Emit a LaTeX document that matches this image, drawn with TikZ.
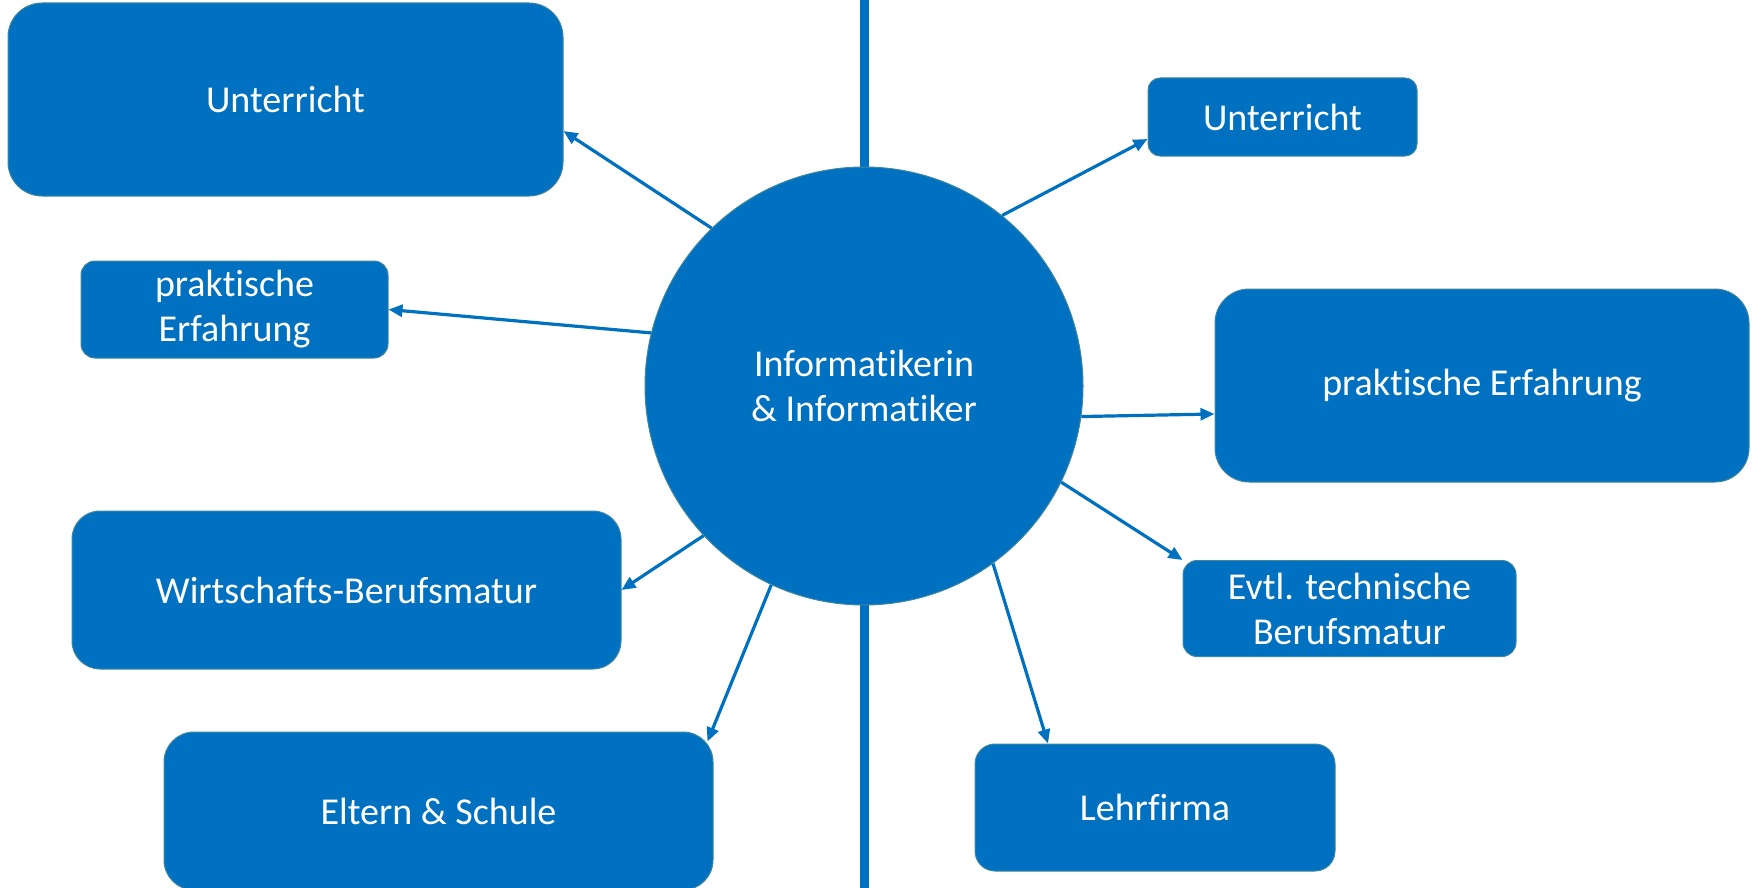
\documentclass[tikz,border=0pt]{standalone}
\usepackage{fontspec}
\setmainfont{Carlito}[Ligatures=NoCommon]
\usetikzlibrary{arrows.meta,calc}
\definecolor{fillblue}{RGB}{0,112,192}
\definecolor{edgeteal}{RGB}{65,135,160}
\begin{document}
\begin{tikzpicture}[x=1pt,y=-1pt,
  box/.style={draw=edgeteal, line width=1pt, fill=fillblue, text=white, inner sep=0pt,
    align=center, font=\fontsize{38}{45}\selectfont},
  conn/.style={draw=fillblue, line width=3.2pt, -{Triangle[length=14pt,width=12pt]}},
  axis/.style={draw=fillblue, line width=9pt}]
\useasboundingbox (0,0) rectangle (1758,888);
\clip (0,0) rectangle (1758,888);
\coordinate (top) at (864,0);
\coordinate (bot) at (864,888);
\draw[axis] (top) -- (bot);
\node[box, circle, minimum size=438pt] (c) at (864,386) {Informatikerin\\\& Informatiker};
% left side
\node[box, rounded corners=34pt, minimum width=555pt, minimum height=193pt] (ul) at (285.5,99.5) {Unterricht};
\node[box, rounded corners=14pt, minimum width=307pt, minimum height=97pt] (pl) at (234.5,309.5) {praktische\\Erfahrung};
\node[box, rounded corners=28pt, minimum width=549pt, minimum height=158pt] (wb) at (346.5,590) {Wirtschafts-Berufsmatur};
\node[box, rounded corners=30pt, minimum width=549pt, minimum height=158pt] (es) at (438.5,811) {Eltern \& Schule};
% right side
\node[box, rounded corners=12pt, minimum width=269pt, minimum height=78pt] (ur) at (1282.5,117) {Unterricht};
\node[box, rounded corners=34pt, minimum width=534pt, minimum height=193pt] (pr) at (1482,385.5) {praktische Erfahrung};
\node[box, rounded corners=14pt, minimum width=333pt, minimum height=96pt] (et) at (1349.5,608.5) {Evtl. technische\\Berufsmatur};
\node[box, rounded corners=20pt, minimum width=360pt, minimum height=127pt] (lf) at (1155,807.5) {Lehrfirma};
% connectors
\draw[conn] (c.134.6) -- (ul.east |- 0,131);
\draw[conn] (c.166.3) -- (pl.east);
\draw[conn] (c.223) -- (wb.east);
\draw[conn] (c.245.1) -- ($(es.north east)+(-6,10)$);
\draw[conn] (c.51.3) -- (ur.west |- 0,139);
\draw[conn] (c.352.7) -- (pr.west |- 0,414);
\draw[conn] (c.334.1) -- (et.north west);
\draw[conn] (c.306.1) -- (lf.north -| 1048,0);
\end{tikzpicture}
\end{document}
